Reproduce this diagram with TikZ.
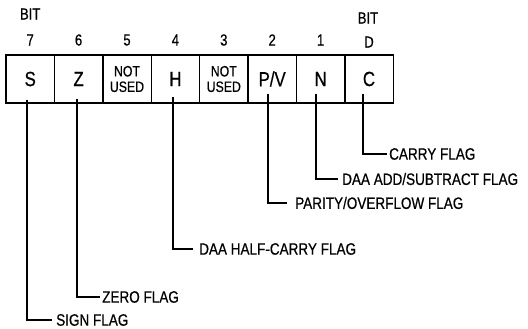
\documentclass[tikz,border=0pt]{standalone}
\usepackage{fontspec}
\setmainfont{Liberation Sans}[FakeStretch=0.82,FakeBold=0.6]
\begin{document}
\begin{tikzpicture}[x=1pt,y=-1pt,
  cell/.style={draw,line width=1.4pt,minimum width=48.4pt,minimum height=48pt,inner sep=0pt,font=\fontsize{20.5}{20}\selectfont},
  smallcell/.style={cell,font=\fontsize{15}{15.5}\selectfont,align=center},
  bitnum/.style={font=\fontsize{16}{16}\selectfont,inner sep=0pt},
  lbl/.style={anchor=west,inner sep=0pt,font=\fontsize{16.5}{16.5}\selectfont},
  lead/.style={line width=1.4pt}]
\useasboundingbox (0,0) rectangle (528,329);
\node[cell] (s) at (30.2,79) {S};
\node[cell] (z) at (78.6,79) {Z};
\node[smallcell] (nu5) at (127,79) {NOT\\USED};
\node[cell] (h) at (175.4,79) {H};
\node[smallcell] (nu3) at (223.8,79) {NOT\\USED};
\node[cell] (pv) at (272.2,79) {P/V};
\node[cell] (n) at (320.6,79) {N};
\node[cell] (c) at (369,79) {C};
\node[bitnum] (b7) at (30.2,40) {7};
\node[bitnum] (b6) at (78.6,40) {6};
\node[bitnum] (b5) at (127,40) {5};
\node[bitnum] (b4) at (175.4,40) {4};
\node[bitnum] (b3) at (223.8,40) {3};
\node[bitnum] (b2) at (272.2,40) {2};
\node[bitnum] (b1) at (320.6,40) {1};
\node[bitnum] (b0) at (369,42) {D};
\node[bitnum] (bitl) at (30.2,14) {BIT};
\node[bitnum] (bitr) at (368,18) {BIT};
\node[lbl] (lc) at (389,154) {CARRY FLAG};
\node[lbl] (ln) at (342,179) {DAA ADD/SUBTRACT FLAG};
\node[lbl] (lpv) at (295,203) {PARITY/OVERFLOW FLAG};
\node[lbl] (lh) at (199,249) {DAA HALF-CARRY FLAG};
\node[lbl] (lz) at (102,297) {ZERO FLAG};
\node[lbl] (ls) at (56,320) {SIGN FLAG};
\draw[lead] ([xshift=-3.2pt,yshift=4pt]s.south) |- ([xshift=-4pt]ls.west);
\draw[lead] ([xshift=-1.6pt,yshift=5pt]z.south) |- ([xshift=-2pt]lz.west);
\draw[lead] ([xshift=-2.4pt,yshift=7pt]h.south) |- ([xshift=-6pt]lh.west);
\draw[lead] ([xshift=-4.2pt,yshift=10pt]pv.south) |- ([xshift=-8pt]lpv.west);
\draw[lead] ([xshift=-4.6pt,yshift=10pt]n.south) |- ([xshift=-4pt]ln.west);
\draw[lead] ([xshift=-6pt,yshift=10pt]c.south) |- ([xshift=-2pt]lc.west);
\end{tikzpicture}
\end{document}
